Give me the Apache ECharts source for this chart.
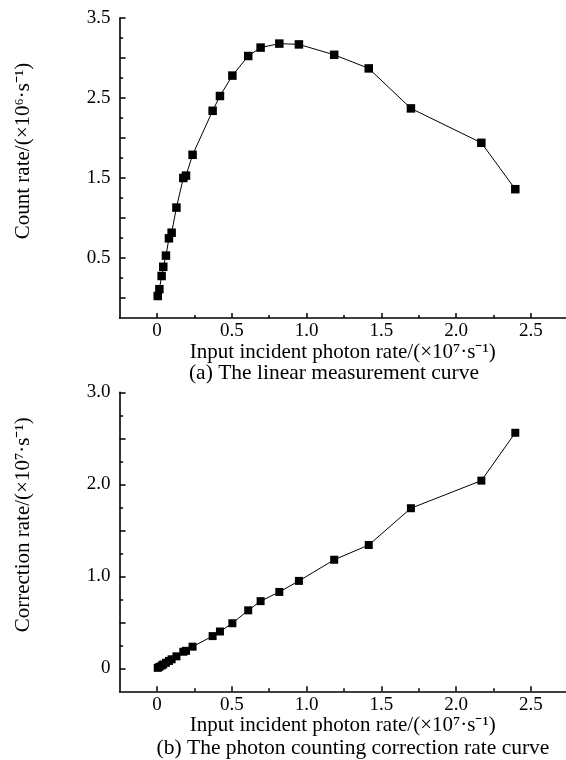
<!DOCTYPE html>
<html>
<head>
<meta charset="utf-8">
<title>Linear measurement and correction rate curves</title>
<script src="https://cdn.jsdelivr.net/npm/echarts@6/dist/echarts.min.js"></script>
<style>
    html, body { margin: 0; padding: 0; background: #fff; }
    #main { width: 566px; height: 760px; }
</style>
</head>
<body>
<div id="main"></div>
<script type="text/javascript">
    // input incident photon rate (x 10^7 s^-1), shared by both curves
    var inputRate = [0.005, 0.016, 0.031, 0.042, 0.06, 0.08, 0.098, 0.13, 0.176, 0.194, 0.238,
                     0.372, 0.421, 0.504, 0.61, 0.693, 0.818, 0.949, 1.185, 1.416, 1.698, 2.169, 2.396];
    // (a) count rate (x 10^6 s^-1)
    var countRate = [0.025, 0.11, 0.275, 0.39, 0.53, 0.746, 0.816, 1.13, 1.50, 1.53, 1.79,
                     2.34, 2.525, 2.78, 3.025, 3.13, 3.18, 3.17, 3.04, 2.87, 2.37, 1.94, 1.36];
    // (b) correction rate (x 10^7 s^-1)
    var correctionRate = [0.005, 0.016, 0.03, 0.042, 0.06, 0.08, 0.098, 0.13, 0.18, 0.19, 0.235,
                          0.35, 0.40, 0.49, 0.63, 0.73, 0.83, 0.95, 1.18, 1.34, 1.74, 2.04, 2.56];

    // tick positions and labels
    var xMajor = [0, 0.5, 1.0, 1.5, 2.0, 2.5];
    var xMinor = [0.25, 0.75, 1.25, 1.75, 2.25];
    var countMajor = [0, 0.5, 1.0, 1.5, 2.0, 2.5, 3.0, 3.5];
    var countMinor = [0.25, 0.75, 1.25, 1.75, 2.25, 2.75, 3.25];
    var countLabels = [0.5, 1.5, 2.5, 3.5];
    var corrMajor = [0, 0.5, 1.0, 1.5, 2.0, 2.5, 3.0];
    var corrMinor = [0.25, 0.75, 1.25, 1.75, 2.25, 2.75];
    var corrLabels = [0, 1.0, 2.0, 3.0];

    var FONT = '"Liberation Serif", "Times New Roman", serif';
    var XMIN = -0.25, XMAX = 2.735;

    function fmt(v) {
        return v === 0 ? '0' : v.toFixed(1);
    }
    function pairs(xs, ys) {
        var out = [];
        for (var i = 0; i < xs.length; i++) out.push([xs[i], ys[i]]);
        return out;
    }

    function xAxisPair(gi) {
        var main = {
            type: 'value', gridIndex: gi, position: 'bottom', min: XMIN, max: XMAX,
            axisLine: { onZero: false, lineStyle: { color: '#000', width: 1.6 } },
            axisTick: { inside: true, length: 5, customValues: xMajor, lineStyle: { color: '#000', width: 1.5 } },
            axisLabel: { customValues: xMajor, formatter: fmt, color: '#000', fontFamily: FONT, fontSize: 19, margin: 4 },
            splitLine: { show: false },
            name: 'Input incident photon rate/(×10⁷·s⁻¹)',
            nameLocation: 'middle', nameGap: 22,
            nameTextStyle: { color: '#000', fontFamily: FONT, fontSize: 21 }
        };
        var minor = {
            type: 'value', gridIndex: gi, position: 'bottom', min: XMIN, max: XMAX,
            axisLine: { show: false, onZero: false },
            axisTick: { inside: true, length: 3, customValues: xMinor, lineStyle: { color: '#000', width: 1.5 } },
            axisLabel: { show: false },
            splitLine: { show: false }
        };
        return [main, minor];
    }

    function yAxisPair(gi, min, max, major, minorTicks, labels, name) {
        var main = {
            type: 'value', gridIndex: gi, position: 'left', min: min, max: max,
            axisLine: { onZero: false, lineStyle: { color: '#000', width: 1.6 } },
            axisTick: { inside: true, length: 6, customValues: major, lineStyle: { color: '#000', width: 1.5 } },
            axisLabel: { customValues: labels, formatter: fmt, color: '#000', fontFamily: FONT, fontSize: 19, margin: 9 },
            splitLine: { show: false },
            name: name, nameLocation: 'middle', nameGap: 86,
            nameTextStyle: { color: '#000', fontFamily: FONT, fontSize: 21, padding: [0, 0, 0, 34] }
        };
        var minor = {
            type: 'value', gridIndex: gi, position: 'left', min: min, max: max,
            axisLine: { show: false, onZero: false },
            axisTick: { inside: true, length: 3.5, customValues: minorTicks, lineStyle: { color: '#000', width: 1.5 } },
            axisLabel: { show: false },
            splitLine: { show: false }
        };
        return [main, minor];
    }

    var chart = echarts.init(document.getElementById('main'));

    var option = {
        backgroundColor: '#fff',
        animation: false,
        grid: [
            { left: 119.6, top: 18, width: 446.6, height: 300 },
            { left: 119.6, top: 392.3, width: 446.6, height: 299 }
        ],
        xAxis: xAxisPair(0).concat(xAxisPair(1)),
        yAxis: yAxisPair(0, -0.25, 3.5, countMajor, countMinor, countLabels, 'Count rate/(×10⁶·s⁻¹)')
            .concat(yAxisPair(1, -0.25, 3.0, corrMajor, corrMinor, corrLabels, 'Correction rate/(×10⁷·s⁻¹)')),
        graphic: [
            { type: 'text', x: 334, y: 373,
              style: { text: '(a) The linear measurement curve', fill: '#000', font: '21.5px ' + FONT,
                       textAlign: 'center', textVerticalAlign: 'middle' } },
            { type: 'text', x: 353, y: 748,
              style: { text: '(b) The photon counting correction rate curve', fill: '#000', font: '21.5px ' + FONT,
                       textAlign: 'center', textVerticalAlign: 'middle' } }
        ],
        series: [
            {
                name: 'count', type: 'line', xAxisIndex: 0, yAxisIndex: 0,
                data: pairs(inputRate, countRate),
                symbol: 'rect', symbolSize: 8.5,
                itemStyle: { color: '#000' },
                lineStyle: { color: '#000', width: 1 }
            },
            {
                name: 'correction', type: 'line', xAxisIndex: 2, yAxisIndex: 2,
                data: pairs(inputRate, correctionRate),
                symbol: 'rect', symbolSize: 8,
                itemStyle: { color: '#000' },
                lineStyle: { color: '#000', width: 1 }
            }
        ]
    };

    chart.setOption(option);
</script>
</body>
</html>
